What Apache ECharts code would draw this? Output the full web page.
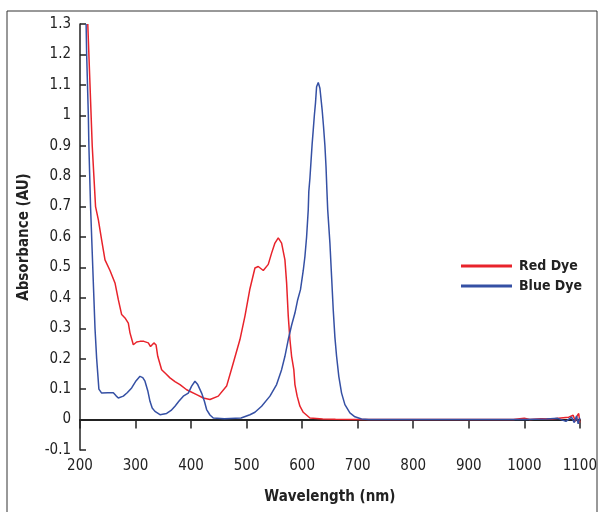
<!DOCTYPE html>
<html>
	<head>
		<meta charset="UTF-8">
		<title>Absorbance</title>
		<script src="https://cdn.jsdelivr.net/npm/echarts@6/dist/echarts.min.js"></script>
		<style>
			html,body{margin:0;padding:0;background:#fff;}
			#chart{width:600px;height:512px;}
		</style>
	</head>
	<body>
		<div id="chart"></div>
		<script>
			// wavelengths (nm) and absorbance
			var redWl = [214,216,218,220,222,225,228,233,239,245,254,263,269,275,281,287,290,296,302,308,315,323,327,333,337,340,347,355,362,371,380,392,410,422,434,449,464,476,488,497,506,515,521,530,539,545,551,557,563,569,572,575,578,581,585,587,591,596,602,614,637,660,700,800,900,980,1000,1010,1030,1050,1070,1080,1088,1092,1095,1098,1100];
			var redAbs = [1.30,1.20,1.10,1.00,0.90,0.80,0.70,0.657,0.59,0.525,0.49,0.449,0.394,0.345,0.334,0.317,0.285,0.246,0.255,0.257,0.257,0.252,0.24,0.252,0.245,0.208,0.164,0.15,0.137,0.125,0.115,0.098,0.082,0.071,0.066,0.077,0.11,0.186,0.263,0.34,0.43,0.498,0.503,0.49,0.51,0.547,0.58,0.597,0.58,0.525,0.45,0.34,0.263,0.208,0.164,0.115,0.077,0.044,0.024,0.005,0.002,0.001,0,0,0,0,0.004,0,0.003,0.002,0.006,0.008,0.014,-0.006,0.012,0.02,-0.01];
			var blueWl = [211,212,213.5,215,216,217.5,219,221,223,225,227,230,232,234,239,250,260,265,269,278,285,293,300,308,313,317,322,326,330,335,344,356,364,371,378,386,395,401,407,412,419,424,428,434,440,460,490,506,515,527,542,554,563,569,575,581,587,592,597,602,605,608,611,612,614,616,618,620,622,624,626,629,632,636,638.5,641,643,644.5,646,650,653,656,659,662,666,671,677,686,695,707,720,800,900,1000,1040,1060,1075,1085,1090,1094,1097,1100];
			var blueAbs = [1.30,1.20,1.10,1.00,0.90,0.80,0.70,0.60,0.50,0.40,0.30,0.20,0.15,0.10,0.087,0.088,0.088,0.078,0.071,0.077,0.088,0.104,0.125,0.142,0.138,0.126,0.095,0.06,0.038,0.027,0.016,0.02,0.03,0.044,0.06,0.077,0.087,0.11,0.126,0.115,0.087,0.06,0.033,0.015,0.005,0.003,0.005,0.016,0.024,0.044,0.077,0.115,0.164,0.208,0.263,0.31,0.35,0.394,0.427,0.49,0.536,0.6,0.69,0.75,0.793,0.85,0.906,0.952,1.0,1.04,1.094,1.108,1.089,1.018,0.963,0.9,0.83,0.757,0.69,0.58,0.47,0.36,0.27,0.208,0.142,0.087,0.049,0.022,0.009,0.002,0,0,0,0,0.002,0.004,-0.006,0.008,-0.01,0.012,-0.014,0.006];
			var seriesNames = ["Red Dye","Blue Dye"];
			var seriesColors = ["#e8232b","#3550a4"];

			function pairs(xs, ys){
				var out = [];
				for(var i=0;i<xs.length;i++) out.push([xs[i], ys[i]]);
				return out;
			}

			var narrow = '"Liberation Sans Narrow","DejaVu Sans Condensed","Roboto Condensed",sans-serif';
			var myChart = echarts.init(document.getElementById('chart'));
			var option = {
				animation: false,
				graphic: [{
					type: 'rect',
					shape: {x: 7, y: 11, width: 590, height: 520},
					style: {fill: 'none', stroke: '#333', lineWidth: 1},
					silent: true
				}],
				grid: {left: 80, top: 24, right: 20, bottom: 62},
				legend: {
					orient: 'vertical',
					left: 461, top: 259,
					padding: 0,
					itemWidth: 51, itemHeight: 3, itemGap: 6,
					icon: 'rect',
					data: seriesNames,
					textStyle: {fontFamily: narrow, fontWeight: 'bold', fontSize: 14, color: '#222', padding: [0,0,0,2]}
				},
				xAxis: [{
					type: 'value',
					min: 200, max: 1100, interval: 100,
					position: 'bottom',
					axisLine: {show: false, onZero: false},
					axisTick: {show: false},
					splitLine: {show: false},
					axisLabel: {fontFamily: narrow, fontSize: 15, color: '#222', margin: 9,
						formatter: function(v){ return String(v); }},
					name: 'Wavelength (nm)',
					nameLocation: 'middle',
					nameGap: 40,
					nameTextStyle: {fontFamily: narrow, fontWeight: 'bold', fontSize: 15, color: '#222'}
				},{
					type: 'value',
					min: 200, max: 1100, interval: 100,
					position: 'top',
					axisLine: {show: true, onZero: true, lineStyle: {color: '#222', width: 2}},
					axisTick: {show: true, inside: true, length: 9, lineStyle: {color: '#222', width: 1.5}},
					axisLabel: {show: false},
					splitLine: {show: false}
				}],
				yAxis: {
					type: 'value',
					min: -0.1, max: 1.3, interval: 0.1,
					axisLine: {show: true, lineStyle: {color: '#222', width: 1.5}},
					axisTick: {show: true, inside: true, length: 6, lineStyle: {color: '#222', width: 1.5}},
					splitLine: {show: false},
					axisLabel: {fontFamily: narrow, fontSize: 15, color: '#222', margin: 9},
					name: 'Absorbance (AU)',
					nameLocation: 'middle',
					nameGap: 48,
					nameTextStyle: {fontFamily: narrow, fontWeight: 'bold', fontSize: 15, color: '#222'}
				},
				series: [{
					name: seriesNames[0],
					type: 'line',
					xAxisIndex: 0,
					data: pairs(redWl, redAbs),
					showSymbol: false,
					color: seriesColors[0],
					lineStyle: {width: 1.5}
				},{
					name: seriesNames[1],
					type: 'line',
					xAxisIndex: 0,
					data: pairs(blueWl, blueAbs),
					showSymbol: false,
					color: seriesColors[1],
					lineStyle: {width: 1.5}
				}]
			};
			myChart.setOption(option);
		</script>
	</body>
</html>
